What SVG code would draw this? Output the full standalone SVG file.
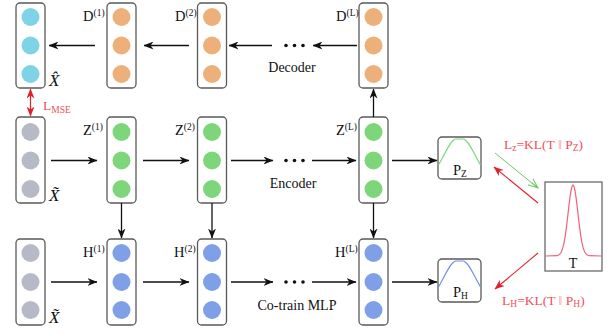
<svg xmlns="http://www.w3.org/2000/svg" width="611" height="334" viewBox="0 0 611 334">
<style>
.box{fill:#fff;stroke:#5a5a5a;stroke-width:1.3}
.cy{fill:#7ed3e6}.or{fill:#edb07a}.gr{fill:#b5bac6}.gn{fill:#7dd67a}.bl{fill:#7fa0e6}
.t{font-family:"Liberation Serif",serif;font-size:14px;fill:#111}
.lab{font-family:"Liberation Serif",serif;font-size:14.5px;fill:#111}
.sup{font-size:9.5px}
.red{font-family:"Liberation Serif",serif;font-size:13.5px;fill:#f0505a}
.xv{font-family:"Liberation Serif",serif;font-size:17px;font-style:italic;fill:#111}
.ln{stroke:#111;stroke-width:1.3;fill:none}
.dot{fill:#111}
</style>
<defs>
<marker id="a" markerUnits="userSpaceOnUse" markerWidth="10" markerHeight="8" refX="9.5" refY="4" orient="auto"><path d="M0,0 L10,4 L0,8 L3,4 z" fill="#111"/></marker>
<marker id="r" markerUnits="userSpaceOnUse" markerWidth="10" markerHeight="8" refX="9.5" refY="4" orient="auto"><path d="M0,0 L10,4 L0,8 L3,4 z" fill="#e0202a"/></marker>
<marker id="rs" markerUnits="userSpaceOnUse" markerWidth="10" markerHeight="8" refX="0.5" refY="4" orient="auto"><path d="M10,0 L0,4 L10,8 L7,4 z" fill="#e0202a"/></marker>
<marker id="g" markerUnits="userSpaceOnUse" markerWidth="12" markerHeight="10" refX="10" refY="5" orient="auto"><path d="M0,1 L10,5 L0,9 M2,5 L10,5" fill="none" stroke="#6cc864" stroke-width="1"/></marker>
</defs>

<g id="xhat">
<rect class="box" x="16" y="3" width="29" height="85" rx="4"/>
<circle class="cy" cx="30.5" cy="17" r="9"/><circle class="cy" cx="30.5" cy="45.5" r="9"/><circle class="cy" cx="30.5" cy="74" r="9"/>
<text class="xv" x="49" y="86">X̂</text>
</g>
<g id="d1">
<rect class="box" x="107" y="3" width="29" height="85" rx="4"/>
<circle class="or" cx="121.5" cy="17" r="9"/><circle class="or" cx="121.5" cy="45.5" r="9"/><circle class="or" cx="121.5" cy="74" r="9"/>
<text class="lab" x="83" y="21">D<tspan class="sup" dy="-5">(1)</tspan></text>
</g>
<g id="d2">
<rect class="box" x="197.5" y="3" width="29" height="85" rx="4"/>
<circle class="or" cx="212" cy="17" r="9"/><circle class="or" cx="212" cy="45.5" r="9"/><circle class="or" cx="212" cy="74" r="9"/>
<text class="lab" x="175" y="21">D<tspan class="sup" dy="-5">(2)</tspan></text>
</g>
<g id="dL">
<rect class="box" x="359" y="3" width="29" height="85" rx="4"/>
<circle class="or" cx="373.5" cy="17" r="9"/><circle class="or" cx="373.5" cy="45.5" r="9"/><circle class="or" cx="373.5" cy="74" r="9"/>
<text class="lab" x="336" y="21">D<tspan class="sup" dy="-5">(L)</tspan></text>
</g>

<g id="xt1">
<rect class="box" x="16" y="117" width="29" height="86" rx="4"/>
<circle class="gr" cx="30.5" cy="132" r="9"/><circle class="gr" cx="30.5" cy="160.5" r="9"/><circle class="gr" cx="30.5" cy="189" r="9"/>
<text class="xv" x="49" y="201">X̃</text>
</g>
<g id="z1">
<rect class="box" x="107" y="117" width="29" height="86" rx="4"/>
<circle class="gn" cx="121.5" cy="132" r="9"/><circle class="gn" cx="121.5" cy="160.5" r="9"/><circle class="gn" cx="121.5" cy="189" r="9"/>
<text class="lab" x="83" y="135">Z<tspan class="sup" dy="-5">(1)</tspan></text>
</g>
<g id="z2">
<rect class="box" x="197.5" y="117" width="29" height="86" rx="4"/>
<circle class="gn" cx="212" cy="132" r="9"/><circle class="gn" cx="212" cy="160.5" r="9"/><circle class="gn" cx="212" cy="189" r="9"/>
<text class="lab" x="175" y="135">Z<tspan class="sup" dy="-5">(2)</tspan></text>
</g>
<g id="zL">
<rect class="box" x="359" y="117" width="29" height="86" rx="4"/>
<circle class="gn" cx="373.5" cy="132" r="9"/><circle class="gn" cx="373.5" cy="160.5" r="9"/><circle class="gn" cx="373.5" cy="189" r="9"/>
<text class="lab" x="336" y="135">Z<tspan class="sup" dy="-5">(L)</tspan></text>
</g>

<g id="xt2">
<rect class="box" x="16" y="239" width="29" height="86" rx="4"/>
<circle class="gr" cx="30.5" cy="253" r="9"/><circle class="gr" cx="30.5" cy="282" r="9"/><circle class="gr" cx="30.5" cy="310" r="9"/>
<text class="xv" x="49" y="323">X̃</text>
</g>
<g id="h1">
<rect class="box" x="107" y="239" width="29" height="86" rx="4"/>
<circle class="bl" cx="121.5" cy="253" r="9"/><circle class="bl" cx="121.5" cy="282" r="9"/><circle class="bl" cx="121.5" cy="310" r="9"/>
<text class="lab" x="83" y="257">H<tspan class="sup" dy="-5">(1)</tspan></text>
</g>
<g id="h2">
<rect class="box" x="197.5" y="239" width="29" height="86" rx="4"/>
<circle class="bl" cx="212" cy="253" r="9"/><circle class="bl" cx="212" cy="282" r="9"/><circle class="bl" cx="212" cy="310" r="9"/>
<text class="lab" x="174" y="257">H<tspan class="sup" dy="-5">(2)</tspan></text>
</g>
<g id="hL">
<rect class="box" x="359" y="239" width="29" height="86" rx="4"/>
<circle class="bl" cx="373.5" cy="253" r="9"/><circle class="bl" cx="373.5" cy="282" r="9"/><circle class="bl" cx="373.5" cy="310" r="9"/>
<text class="lab" x="335" y="257">H<tspan class="sup" dy="-5">(L)</tspan></text>
</g>

<g id="pz">
<rect class="box" x="438" y="137" width="43" height="42" rx="4"/>
<path d="M438.5,165 C446,152 451,139 456,139 L463,139 C468,139 473,152 480.5,165" fill="none" stroke="#7dd67a" stroke-width="1.2"/>
<text class="lab" x="453" y="175">P<tspan class="sup" dy="2">Z</tspan></text>
</g>
<g id="ph">
<rect class="box" x="438" y="259" width="43" height="43" rx="4"/>
<path d="M438.5,287 C446,274 451,261 456,261 L463,261 C468,261 473,274 480.5,287" fill="none" stroke="#7090e6" stroke-width="1.2"/>
<text class="lab" x="453" y="297">P<tspan class="sup" dy="2">H</tspan></text>
</g>
<g id="t">
<rect x="545" y="182" width="57" height="89" fill="#fff" stroke="#6a6a6a" stroke-width="1.3"/>
<polyline fill="none" stroke="#f0607a" stroke-width="1.2" points="545.5,256 557,255.7 558,255.3 559,254.8 560,253.9 561,252.5 562,250.3 563,247.2 564,242.9 565,237.3 566,230.4 567,222.5 568,213.8 569,205.1 570,197.1 571,190.7 572,186.5 573,185 574,186.5 575,190.7 576,197.1 577,205.1 578,213.8 579,222.5 580,230.4 581,237.3 582,242.9 583,247.2 584,250.3 585,252.5 586,253.9 587,254.8 588,255.3 589,255.7 601.5,256"/>
<text class="t" x="573" y="268" text-anchor="middle" font-size="15">T</text>
</g>

<g id="connectors">
<line class="ln" x1="357" y1="45.5" x2="313" y2="45.5" marker-end="url(#a)"/>
<line class="ln" x1="272" y1="45.5" x2="229" y2="45.5" marker-end="url(#a)"/>
<line class="ln" x1="189" y1="45.5" x2="144" y2="45.5" marker-end="url(#a)"/>
<line class="ln" x1="95" y1="45.5" x2="49" y2="45.5" marker-end="url(#a)"/>
<circle class="dot" cx="286" cy="45.5" r="1.8"/><circle class="dot" cx="294.5" cy="45.5" r="1.8"/><circle class="dot" cx="303" cy="45.5" r="1.8"/>

<line class="ln" x1="51" y1="160.5" x2="97" y2="160.5" marker-end="url(#a)"/>
<line class="ln" x1="143" y1="160.5" x2="189" y2="160.5" marker-end="url(#a)"/>
<line class="ln" x1="231" y1="160.5" x2="273" y2="160.5" marker-end="url(#a)"/>
<line class="ln" x1="312" y1="160.5" x2="356" y2="160.5" marker-end="url(#a)"/>
<line class="ln" x1="392" y1="160.5" x2="437" y2="160.5" marker-end="url(#a)"/>
<circle class="dot" cx="286" cy="160.5" r="1.8"/><circle class="dot" cx="294.5" cy="160.5" r="1.8"/><circle class="dot" cx="303" cy="160.5" r="1.8"/>

<line class="ln" x1="51" y1="282" x2="97" y2="282" marker-end="url(#a)"/>
<line class="ln" x1="143" y1="282" x2="189" y2="282" marker-end="url(#a)"/>
<line class="ln" x1="231" y1="282" x2="273" y2="282" marker-end="url(#a)"/>
<line class="ln" x1="312" y1="282" x2="356" y2="282" marker-end="url(#a)"/>
<line class="ln" x1="392" y1="282" x2="437" y2="282" marker-end="url(#a)"/>
<circle class="dot" cx="286" cy="282" r="1.8"/><circle class="dot" cx="294.5" cy="282" r="1.8"/><circle class="dot" cx="303" cy="282" r="1.8"/>

<line class="ln" x1="121.5" y1="203" x2="121.5" y2="238" marker-end="url(#a)"/>
<line class="ln" x1="212" y1="203" x2="212" y2="238" marker-end="url(#a)"/>
<line class="ln" x1="373.5" y1="203" x2="373.5" y2="238" marker-end="url(#a)"/>
<line class="ln" x1="373.5" y1="117" x2="373.5" y2="89" marker-end="url(#a)"/>

<line x1="30.5" y1="89" x2="30.5" y2="116" stroke="#e0202a" stroke-width="1.2" marker-start="url(#rs)" marker-end="url(#r)"/>
<line x1="495" y1="153" x2="538" y2="188" stroke="#6cc864" stroke-width="1" marker-end="url(#g)"/>
<line x1="538" y1="203" x2="494" y2="167" stroke="#e0202a" stroke-width="1.1" marker-end="url(#r)"/>
<line x1="538" y1="253" x2="495" y2="289" stroke="#e0202a" stroke-width="1.1" marker-end="url(#r)"/>
</g>

<text class="t" x="292" y="72" text-anchor="middle">Decoder</text>
<text class="t" x="293" y="188" text-anchor="middle">Encoder</text>
<text class="t" x="297" y="310" text-anchor="middle">Co-train MLP</text>
<text class="red" x="43" y="110" font-size="15">L<tspan class="sup" dy="3">MSE</tspan></text>
<text class="red" x="504" y="149">L<tspan class="sup" dy="2">z</tspan><tspan dy="-2">=KL(T </tspan><tspan fill="#f59aa0">‖</tspan><tspan> P</tspan><tspan class="sup" dy="2">Z</tspan><tspan dy="-2">)</tspan></text>
<text class="red" x="502" y="305">L<tspan class="sup" dy="2">H</tspan><tspan dy="-2">=KL(T </tspan><tspan fill="#f59aa0">‖</tspan><tspan> P</tspan><tspan class="sup" dy="2">H</tspan><tspan dy="-2">)</tspan></text>
</svg>
